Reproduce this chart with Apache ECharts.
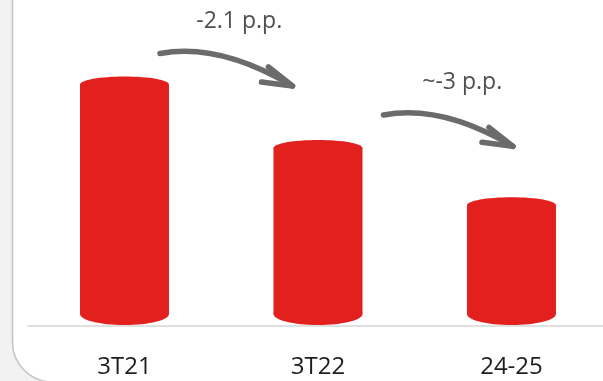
<!DOCTYPE html>
<html>
<head>
<meta charset="utf-8">
<script src="https://cdn.jsdelivr.net/npm/echarts@6/dist/echarts.min.js"></script>
<style>
  html, body { margin: 0; padding: 0; background: #f2f2f2; }
  #chart { width: 603px; height: 381px; }
</style>
</head>
<body>
<div id="chart"></div>
<script>
// Periods and values of the red cylinder bars
const categories = ['3T21', '3T22', '24-25'];
const values = [8.05, 6.0, 4.15];
// Change labels drawn over the arrows between consecutive bars
const changeLabels = ['-2.1 p.p.', '~-3 p.p.'];

const FONT = '"Open Sans", "Noto Sans", sans-serif';
const BAR_COLOR = '#e2211f';
const BAR_WIDTH = 89;
const TOP_RY = 8;
const BOTTOM_RY = 11;
// The last category slot runs slightly past the card's right edge
const X_CLIP = 0.027;

// Arrow placement relative to the two bar tops it joins (pixels)
const ARROW_LAYOUT = [
  { start: [35.5, -23], end: [-25.5, -54], label: [13, -32] },
  { start: [65.5, -25], end: [1.5, -51], label: [14, -33] }
];

const chart = echarts.init(document.getElementById('chart'), null, { renderer: 'canvas' });

// Cylinder: body rect plus elliptical cap and rounded base
function renderCylinder(params, api) {
  const top = api.coord([api.value(0), api.value(1)]);
  const base = api.coord([api.value(0), 0]);
  const cx = top[0];
  const half = BAR_WIDTH / 2;
  const yTop = top[1] + TOP_RY;
  const yBot = base[1] - 1 - BOTTOM_RY;
  const style = { fill: BAR_COLOR };
  return {
    type: 'group',
    children: [
      { type: 'rect', shape: { x: cx - half, y: yTop, width: BAR_WIDTH, height: Math.max(0, yBot - yTop) }, style },
      { type: 'ellipse', shape: { cx: cx, cy: yTop, rx: half, ry: TOP_RY }, style },
      { type: 'ellipse', shape: { cx: cx, cy: yBot, rx: half, ry: BOTTOM_RY }, style }
    ]
  };
}

const cardGraphic = {
  type: 'rect',
  id: 'card',
  z: -10,
  silent: true,
  shape: { x: 12.5, y: -60, width: 700, height: 442, r: 40 },
  style: { fill: '#ffffff', stroke: '#c4c4c4', lineWidth: 1.5 }
};

const categoryIndex = categories.map((c, i) => i);

chart.setOption({
  backgroundColor: '#f2f2f2',
  animation: false,
  grid: { left: 27.75, right: 0, top: 16, height: 310 },
  xAxis: {
    type: 'value',
    min: -0.5,
    max: categories.length - 0.5 - X_CLIP,
    splitLine: { show: false },
    axisLine: { show: true, onZero: false, lineStyle: { color: '#d6d6d6', width: 1.5 } },
    axisTick: { show: false },
    axisLabel: {
      customValues: categoryIndex,
      formatter: (v) => categories[Math.round(v)] ?? '',
      margin: 41,
      verticalAlign: 'middle',
      color: '#1e1e1e',
      fontSize: 24,
      fontFamily: FONT,
      showMinLabel: true,
      showMaxLabel: true
    }
  },
  yAxis: {
    type: 'value',
    min: 0,
    max: 10,
    show: false,
    splitLine: { show: false }
  },
  graphic: [cardGraphic],
  series: [{
    type: 'custom',
    renderItem: renderCylinder,
    encode: { x: 0, y: 1 },
    data: values.map((v, i) => [i, v]),
    z: 2
  }]
});

// Curved arrows between bar tops, placed from the bars' own pixel positions
const ARROW_COLOR = '#6b6b6b';
const arrowGraphics = [cardGraphic];
for (let i = 0; i < values.length - 1; i++) {
  const lay = ARROW_LAYOUT[i];
  const a = chart.convertToPixel({ seriesIndex: 0 }, [i, values[i]]);
  const b = chart.convertToPixel({ seriesIndex: 0 }, [i + 1, values[i + 1]]);
  const sx = a[0] + lay.start[0], sy = a[1] + lay.start[1];
  const ex = b[0] + lay.end[0], ey = b[1] + lay.end[1];
  const cpx = sx + (ex - sx) * 0.45, cpy = sy - 11;
  arrowGraphics.push({
    type: 'bezierCurve',
    z: 5,
    shape: { x1: sx, y1: sy, x2: ex, y2: ey, cpx1: cpx, cpy1: cpy },
    style: { stroke: ARROW_COLOR, lineWidth: 5.5, lineCap: 'round', fill: null }
  });
  arrowGraphics.push({
    type: 'polyline',
    z: 5,
    shape: { points: [[ex - 24, ey - 19], [ex, ey], [ex - 31, ey - 4]] },
    style: { stroke: ARROW_COLOR, lineWidth: 5.5, lineCap: 'round', lineJoin: 'round', fill: null }
  });
  arrowGraphics.push({
    type: 'text',
    z: 5,
    x: (sx + ex) / 2 + lay.label[0],
    y: sy + lay.label[1],
    style: {
      text: changeLabels[i],
      fill: '#505050',
      font: '23px ' + FONT,
      textAlign: 'center',
      textVerticalAlign: 'middle'
    }
  });
}
chart.setOption({ graphic: arrowGraphics }, { replaceMerge: ['graphic'] });
</script>
</body>
</html>
